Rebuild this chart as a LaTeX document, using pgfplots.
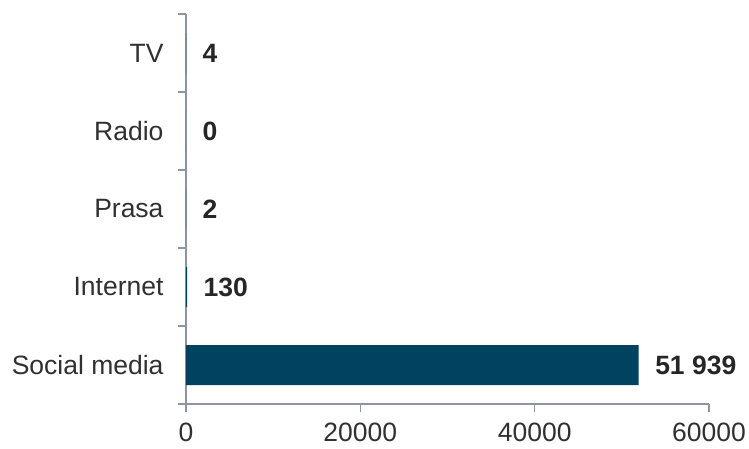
\documentclass[border=0pt]{standalone}
\usepackage{pgfplots}
\usepackage{pgfplotstable}
\pgfplotsset{compat=1.18}
\usepackage{fontspec}
\setmainfont{Liberation Sans}
\usetikzlibrary{calc}

\definecolor{barblue}{HTML}{00425F}
\definecolor{axisgray}{HTML}{8C96A2}
\definecolor{txt}{HTML}{303030}
\definecolor{valtxt}{HTML}{262626}

\pgfplotstableread{
y x label
0 51939 {51 939}
1 130 130
2 2 2
3 0 0
4 4 4
}\datatable

\begin{document}
\begin{tikzpicture}[font=\fontsize{26.5bp}{30bp}\selectfont]
\begin{axis}[
    scale only axis, width=523bp, height=390bp,
    xbar, bar width=40bp,
    xmin=0, xmax=60000, ymin=-0.5, ymax=4.5,
    axis x line*=bottom, axis y line*=left,
    axis line style={-, draw=axisgray, line width=1.3bp},
    tick align=outside,
    tick style={draw=axisgray, line width=1.3bp},
    major tick length=8bp,
    xtick={0,20000,40000,60000},
    scaled x ticks=false,
    /pgf/number format/1000 sep={},
    /pgf/number format/assume math mode=true,
    ytick={0,1,2,3,4},
    yticklabels={Social media, Internet, Prasa, Radio, TV},
    ytick style={draw=none},
    extra y ticks={-0.5,0.5,1.5,2.5,3.5,4.5},
    extra y tick labels={},
    extra y tick style={ytick style={draw=axisgray, line width=1.3bp}},
    tick label style={color=txt, font=\fontsize{26.5bp}{30bp}\selectfont},
    yticklabel style={xshift=-11bp},
    xticklabel style={yshift=-10bp, inner sep=1bp},
    nodes near coords,
    point meta=explicit symbolic,
    nodes near coords style={font=\bfseries\fontsize{26.5bp}{30bp}\selectfont, color=valtxt, anchor=west, xshift=13bp},
  ]
  \addplot[fill=barblue, draw=none] table[x=x, y=y, meta=label]{\datatable};
  \coordinate (sw) at (rel axis cs:0,0);
\end{axis}
\pgfresetboundingbox
\path ($(sw)+(-186bp,-45bp)$) rectangle ($(sw)+(563bp,404bp)$);
\end{tikzpicture}
\end{document}
